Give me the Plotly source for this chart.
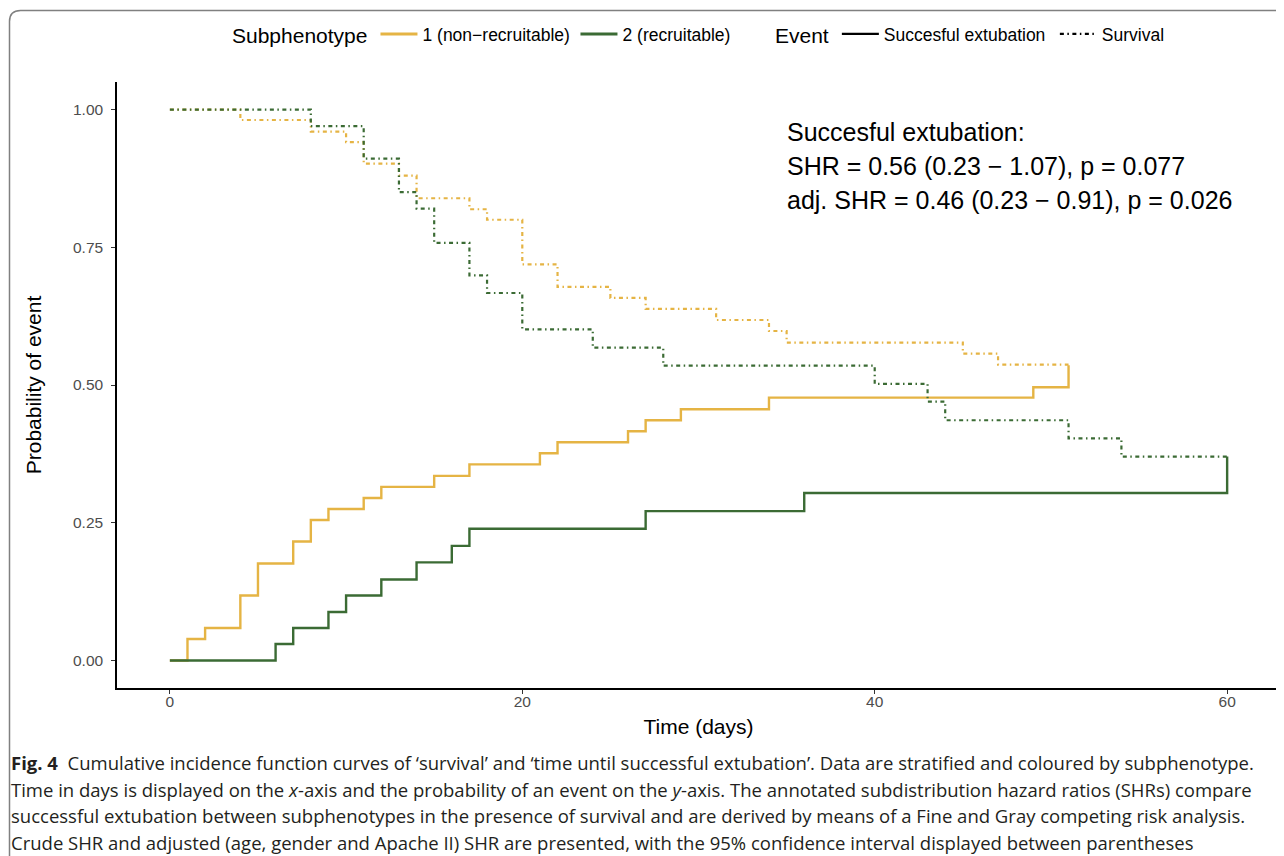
import plotly.graph_objects as go

# ---------------- data ----------------
ext1_time = [0, 1, 2, 4, 5, 7, 8, 9, 11, 12, 15, 17, 21, 22, 26, 27, 29, 34, 49, 51]
ext1_prob = [0, 0.039, 0.059, 0.118, 0.176, 0.216, 0.255, 0.275, 0.295, 0.315,
             0.335, 0.356, 0.376, 0.396, 0.416, 0.436, 0.456, 0.477, 0.496, 0.536]

ext2_time = [0, 6, 7, 9, 10, 12, 14, 16, 17, 27, 36, 60]
ext2_prob = [0, 0.030, 0.059, 0.088, 0.118, 0.147, 0.178, 0.208, 0.239, 0.271, 0.304, 0.370]

surv1_time = [0, 4, 8, 10, 11, 13, 14, 17, 18, 20, 22, 25, 27, 31, 34, 35, 45, 47, 51]
surv1_prob = [1, 0.981, 0.960, 0.941, 0.902, 0.880, 0.839, 0.819, 0.800, 0.719,
              0.678, 0.658, 0.638, 0.618, 0.598, 0.577, 0.557, 0.537, 0.537]

surv2_time = [0, 8, 11, 13, 14, 15, 17, 18, 20, 24, 28, 40, 43, 44, 51, 54, 60]
surv2_prob = [1, 0.970, 0.911, 0.850, 0.820, 0.758, 0.699, 0.667, 0.601, 0.568,
              0.535, 0.502, 0.470, 0.436, 0.403, 0.370, 0.370]

subphenotypes = ["1 (non\u2212recruitable)", "2 (recruitable)"]
events = ["Succesful extubation", "Survival"]
x_ticks = [0, 20, 40, 60]
y_ticks = [0, 0.25, 0.5, 0.75, 1.0]

annot_lines = ["Succesful extubation:",
               "SHR = 0.56 (0.23 \u2212 1.07), p = 0.077",
               "adj. SHR = 0.46 (0.23 \u2212 0.91), p = 0.026"]
annot_x = 34.9
annot_y = [0.96, 0.898, 0.836]

caption_lines = [
    "<b>Fig. 4</b>  Cumulative incidence function curves of \u2018survival\u2019 and \u2018time until successful extubation\u2019. Data are stratified and coloured by subphenotype.",
    "Time in days is displayed on the <i>x</i>-axis and the probability of an event on the <i>y</i>-axis. The annotated subdistribution hazard ratios (SHRs) compare",
    "successful extubation between subphenotypes in the presence of survival and are derived by means of a Fine and Gray competing risk analysis.",
    "Crude SHR and adjusted (age, gender and Apache II) SHR are presented, with the 95% confidence interval displayed between parentheses",
]

# ---------------- styling ----------------
YEL = "#E5B444"
GRN = "#3B6B34"
DOTDASH = "4px,3.5px,1.5px,3.5px"
FONT = "Liberation Sans, Arial, sans-serif"

OFF = 8                      # page body margin of the html page
W, H = 1284 - OFF, 856 - OFF
ML, MR, MT, MB = 109, 4, 74, 168
PW, PH = W - ML - MR, H - MT - MB


def px_x(p):                 # page pixel -> paper x
    return (p - OFF - ML) / PW


def px_y(p):                 # page pixel -> paper y
    return (H - MB - (p - OFF)) / PH


fig = go.Figure()

# curves
fig.add_trace(go.Scatter(x=surv1_time, y=surv1_prob, mode="lines", line_shape="hv",
                         line=dict(color=YEL, width=2.2, dash=DOTDASH), showlegend=False))
fig.add_trace(go.Scatter(x=ext1_time, y=ext1_prob, mode="lines", line_shape="hv",
                         line=dict(color=YEL, width=2.4), showlegend=False))
fig.add_trace(go.Scatter(x=surv2_time, y=surv2_prob, mode="lines", line_shape="hv",
                         line=dict(color=GRN, width=2.2, dash=DOTDASH), showlegend=False))
fig.add_trace(go.Scatter(x=ext2_time, y=ext2_prob, mode="lines", line_shape="hv",
                         line=dict(color=GRN, width=2.4), showlegend=False))

# legend entries
for name, col in zip(subphenotypes, [YEL, GRN]):
    fig.add_trace(go.Scatter(x=[None], y=[None], mode="lines", name=name,
                             line=dict(color=col, width=3), legend="legend"))
for name, dash in zip(events, ["solid", DOTDASH]):
    fig.add_trace(go.Scatter(x=[None], y=[None], mode="lines", name=name,
                             line=dict(color="black", width=2.4, dash=dash), legend="legend2"))

# SHR annotation
for txt, yv in zip(annot_lines, annot_y):
    fig.add_annotation(x=annot_x, y=yv, xref="x", yref="y", text=txt,
                       showarrow=False, xanchor="left", yanchor="middle",
                       font=dict(family=FONT, size=25, color="black"))

# caption
for txt, py in zip(caption_lines, [762, 789, 816, 842]):
    fig.add_annotation(x=px_x(9), y=px_y(py), xref="paper", yref="paper",
                       text=txt, showarrow=False, xanchor="left", yanchor="middle",
                       font=dict(family="Open Sans, sans-serif", size=18.5, color="#231F20"))

# frame around the figure (top-left rounded corner)
fx, fy, fr = 9.5, 10.5, 11
frame_path = (f"M {px_x(fx)},{px_y(900)} L {px_x(fx)},{px_y(fy + fr)} "
              f"Q {px_x(fx)},{px_y(fy)} {px_x(fx + fr)},{px_y(fy)} L {px_x(1300)},{px_y(fy)}")
fig.add_shape(type="path", path=frame_path, xref="paper", yref="paper",
              line=dict(color="#808080", width=1.5), layer="above")

legend_common = dict(orientation="h", yanchor="middle", xanchor="left", itemwidth=37,
                     bgcolor="rgba(0,0,0,0)", font=dict(family=FONT, size=17.5, color="black"),
                     title=dict(side="left", font=dict(family=FONT, size=21, color="black")))

fig.update_layout(
    width=W, height=H,
    margin=dict(l=ML, r=MR, t=MT, b=MB, autoexpand=False),
    paper_bgcolor="white", plot_bgcolor="white",
    font=dict(family=FONT, color="black"),
    legend=dict(**legend_common, x=px_x(230), y=px_y(35), entrywidth=148,
                title_text="Subphenotype"),
    legend2=dict(**legend_common, x=px_x(773), y=px_y(35), entrywidth=166,
                 title_text="Event"),
    xaxis=dict(range=[-3, 63], tickvals=x_ticks, ticktext=[str(v) for v in x_ticks],
               showgrid=False, zeroline=False, showline=True, linecolor="black", linewidth=1.5,
               ticks="outside", ticklen=4, tickwidth=1.2, tickcolor="#333333",
               ticklabelstandoff=-5,
               tickfont=dict(family=FONT, size=15.5, color="#4D4D4D"),
               title=dict(text="Time (days)", standoff=10,
                          font=dict(family=FONT, size=21, color="black"))),
    yaxis=dict(range=[-0.05, 1.05], tickvals=y_ticks, ticktext=[f"{v:.2f}" for v in y_ticks],
               showgrid=False, zeroline=False, showline=True, linecolor="black", linewidth=1.5,
               ticks="outside", ticklen=4, tickwidth=1.2, tickcolor="#333333",
               ticklabelstandoff=5,
               tickfont=dict(family=FONT, size=15.5, color="#4D4D4D"),
               title=dict(text="Probability of event", standoff=26,
                          font=dict(family=FONT, size=21, color="black"))),
)

fig.write_html("out.html")
